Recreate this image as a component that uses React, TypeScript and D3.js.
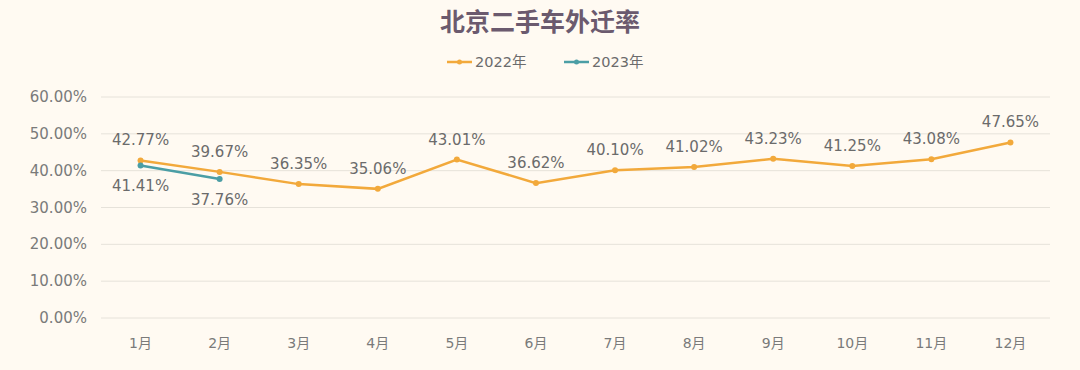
import React from 'react';
import { scaleBand, scaleLinear, line } from 'd3';

const months = ['1月', '2月', '3月', '4月', '5月', '6月', '7月', '8月', '9月', '10月', '11月', '12月'];
const rate2022 = [42.77, 39.67, 36.35, 35.06, 43.01, 36.62, 40.1, 41.02, 43.23, 41.25, 43.08, 47.65];
const rate2023 = [41.41, 37.76];
const yTicks = [0, 10, 20, 30, 40, 50, 60];

const W = 1080;
const H = 370;
const FONT = '"DejaVu Sans", "Noto Sans CJK SC", sans-serif';
const ORANGE = '#f2a93b';
const TEAL = '#4b9ea5';
const TEXT = '#6b6b6b';

const App = () => {
  const x = scaleBand<string>().domain(months).range([101, 1050]);
  const y = scaleLinear().domain([0, 60]).range([318, 97]);
  const cx = (i: number) => (x(months[i]) ?? 0) + x.bandwidth() / 2;

  const path = line<number>()
    .x((d, i) => cx(i))
    .y(d => y(d));

  const series = [
    { name: '2022年', data: rate2022, color: ORANGE, dy: -15 },
    { name: '2023年', data: rate2023, color: TEAL, dy: 26 }
  ];

  return (
    <svg width={W} height={H} style={{ position: 'absolute', left: 0, top: 0, display: 'block' }} fontFamily={FONT}>
      <rect width={W} height={H} fill="#fffaf2" />
      <text x={540} y={31} textAnchor="middle" fontSize={25} fontWeight="bold" fill="#6b5a6e">
        北京二手车外迁率
      </text>

      {series.map((s, k) => {
        const lx = k === 0 ? 447 : 564;
        return (
          <g key={s.name}>
            <line x1={lx} x2={lx + 25} y1={62} y2={62} stroke={s.color} strokeWidth={2.5} />
            <circle cx={lx + 12.5} cy={62} r={2.5} fill={s.color} />
            <text x={lx + 28} y={67} fontSize={14.5} fill={TEXT}>{s.name}</text>
          </g>
        );
      })}

      {yTicks.map(t => (
        <g key={t}>
          <line x1={101} x2={1050} y1={y(t)} y2={y(t)} stroke="#e6e2da" strokeWidth={1} />
          <text x={87} y={y(t) + 5} textAnchor="end" fontSize={15} fill="#7a7a7a">
            {t.toFixed(2)}%
          </text>
        </g>
      ))}

      {months.map((m, i) => (
        <text key={m} x={cx(i)} y={348} textAnchor="middle" fontSize={14} fill="#7a7a7a">{m}</text>
      ))}

      {series.map(s => (
        <g key={s.name}>
          <path d={path(s.data) ?? ''} fill="none" stroke={s.color} strokeWidth={2.5} />
          {s.data.map((v, i) => (
            <g key={i}>
              <circle cx={cx(i)} cy={y(v)} r={3} fill={s.color} />
              <text x={cx(i)} y={y(v) + s.dy} textAnchor="middle" fontSize={15} fill={TEXT}>
                {v.toFixed(2)}%
              </text>
            </g>
          ))}
        </g>
      ))}
    </svg>
  );
};

export default App;
